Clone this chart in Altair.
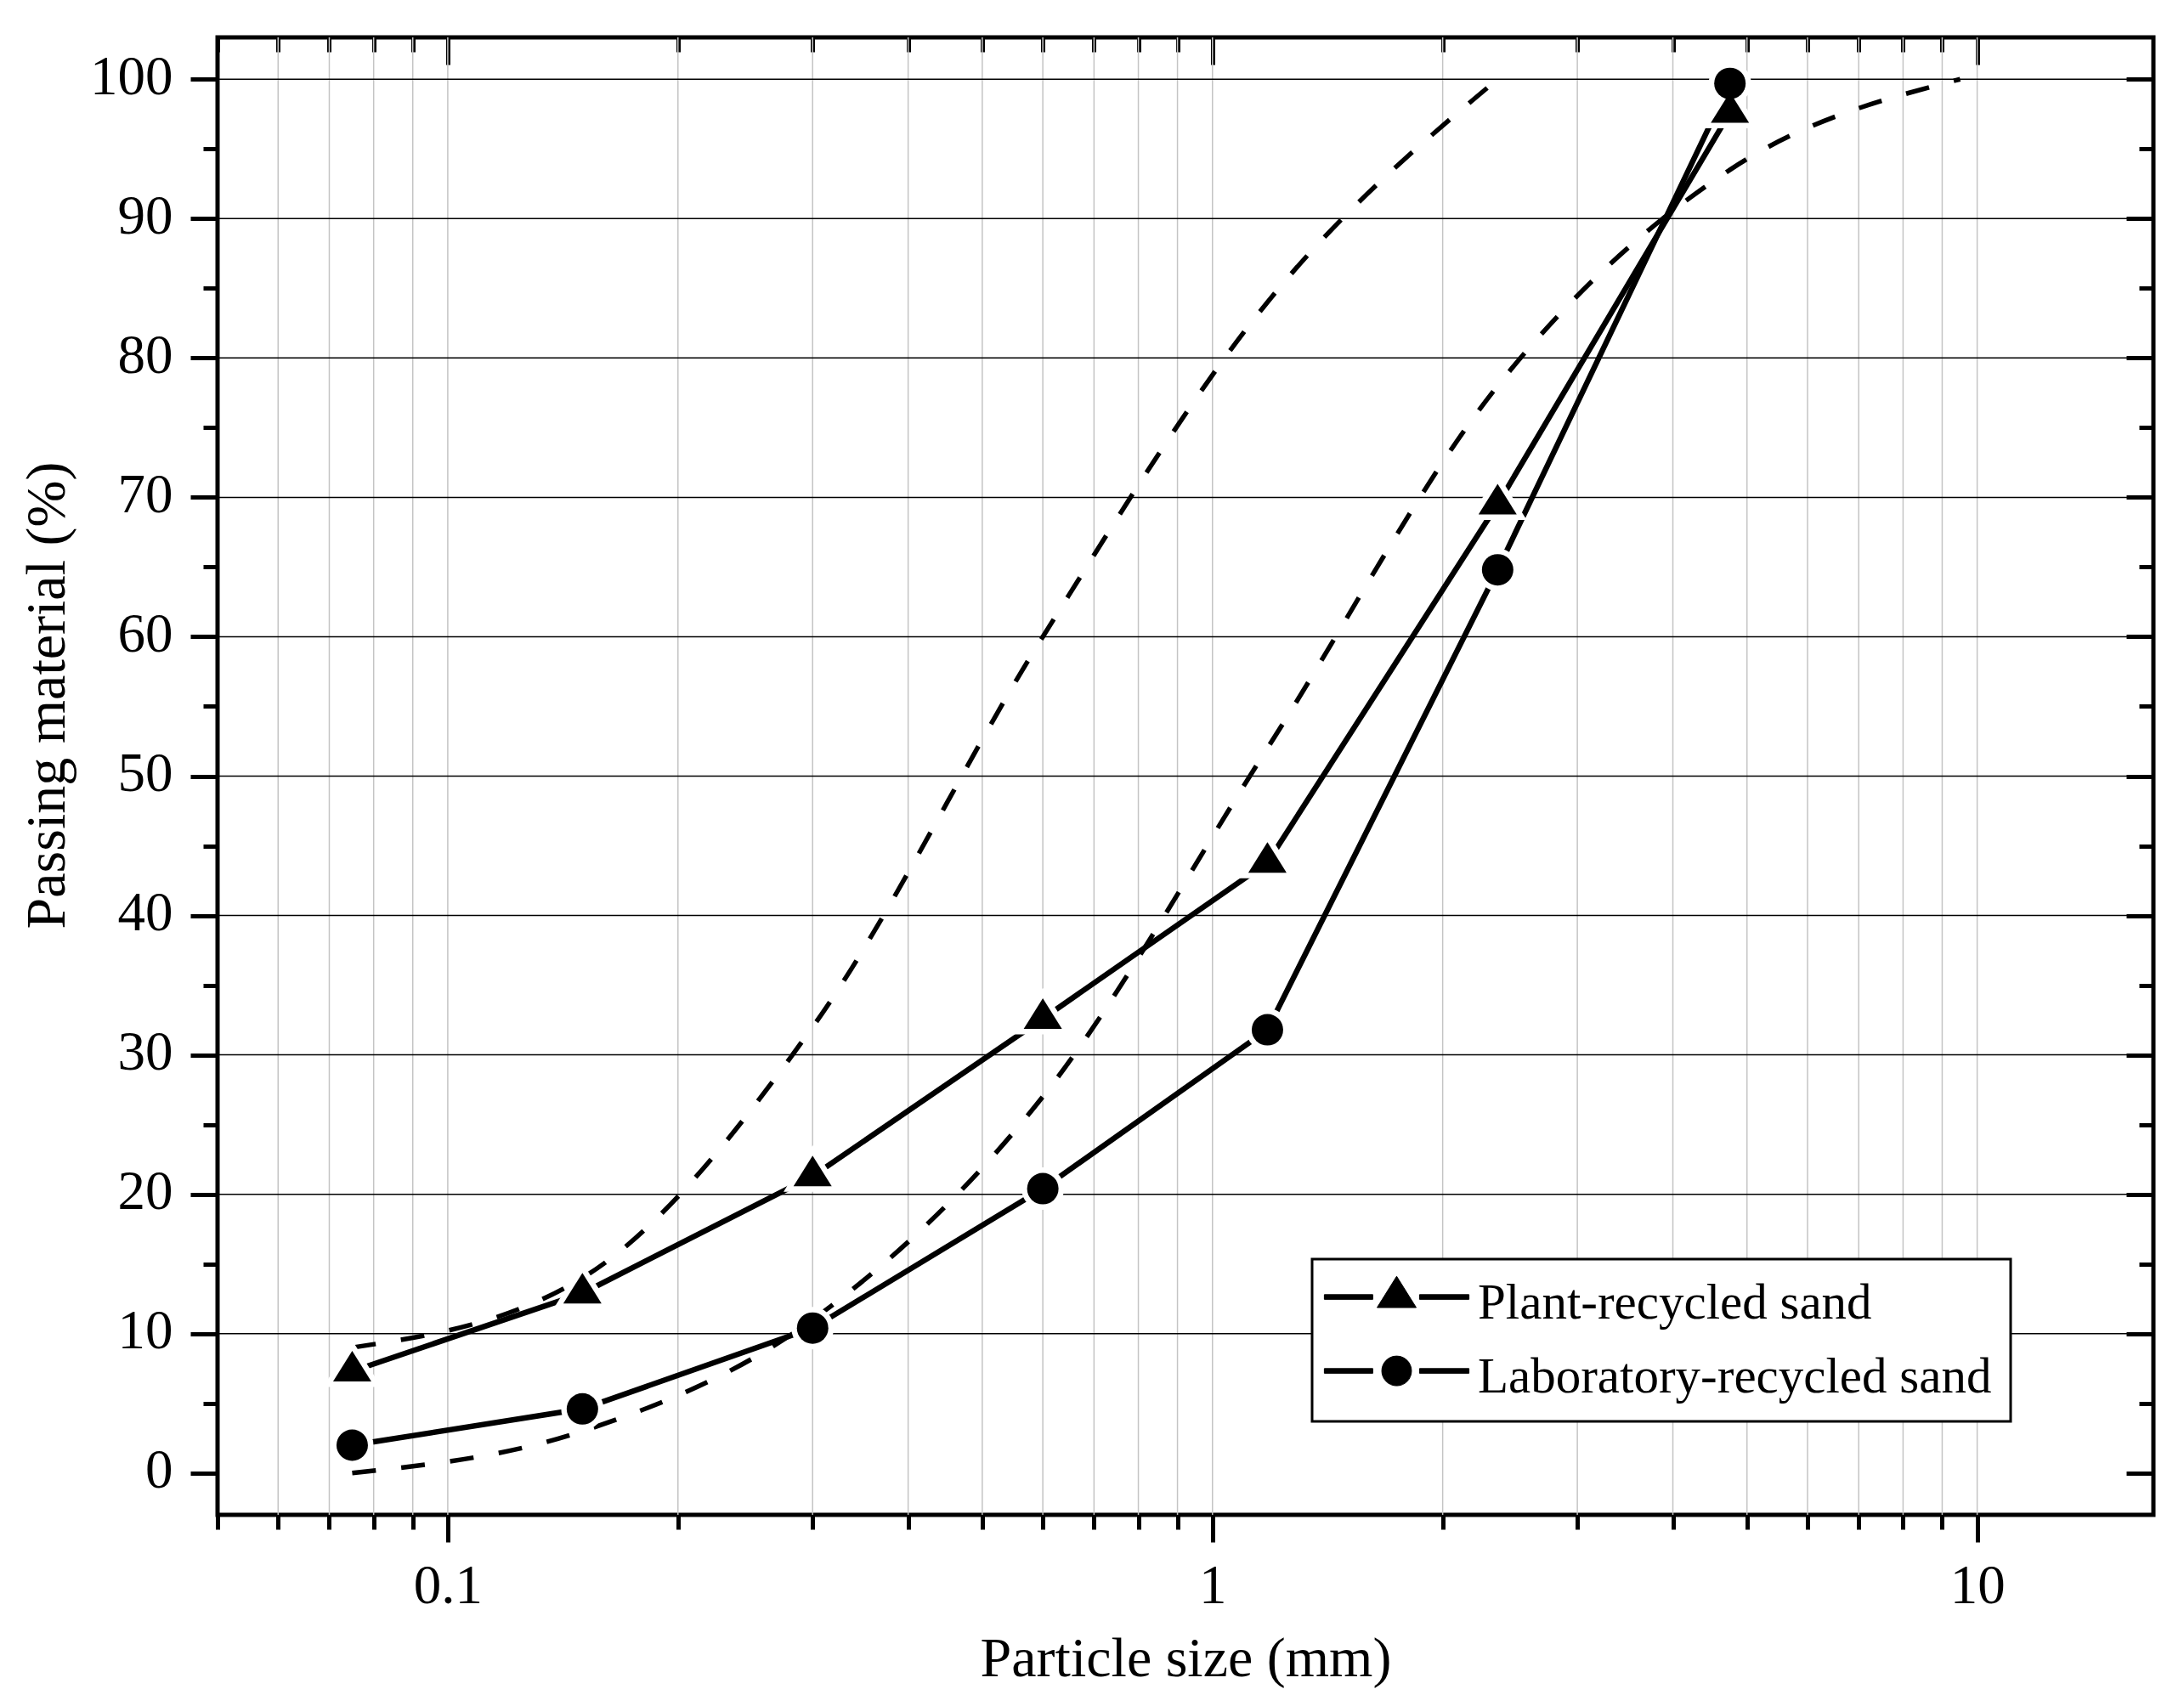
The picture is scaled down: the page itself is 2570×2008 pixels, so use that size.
import altair as alt
import pandas as pd

# ---------------- data ----------------
SIEVES = [0.075, 0.15, 0.3, 0.6, 1.18, 2.36, 4.75]
PLANT = [7.3, 12.9, 21.3, 32.6, 43.8, 69.5, 97.6]
LAB = [2.0, 4.6, 10.4, 20.4, 31.8, 64.8, 99.7]

UPPER_SIEVES = [0.075, 0.15, 0.3, 0.6, 1.18, 2.36]
UPPER = [9, 14, 32, 60, 84, 100]
LOWER_SIEVES = [0.075, 0.15, 0.3, 0.6, 1.18, 2.36, 4.75, 9.5]
LOWER = [0, 3, 11, 27, 52, 78, 93.5, 100]

SERIES = ["Plant-recycled sand", "Laboratory-recycled sand"]

X_MAJOR = [0.1, 1, 10]
X_MINOR = [0.05, 0.06, 0.07, 0.08, 0.09, 0.2, 0.3, 0.4, 0.5, 0.6, 0.7, 0.8, 0.9,
           2, 3, 4, 5, 6, 7, 8, 9]
X_GRID = [0.06, 0.07, 0.08, 0.09, 0.1, 0.2, 0.3, 0.4, 0.5, 0.6, 0.7, 0.8, 0.9,
          1, 2, 3, 4, 5, 6, 7, 8, 9, 10]
Y_MAJOR = [0, 10, 20, 30, 40, 50, 60, 70, 80, 90, 100]
Y_MINOR = [5, 15, 25, 35, 45, 55, 65, 75, 85, 95]
Y_GRID = [10, 20, 30, 40, 50, 60, 70, 80, 90, 100]

# ---------------- tables ----------------
data = pd.DataFrame({
    "size": SIEVES + SIEVES,
    "pass": PLANT + LAB,
    "series": [SERIES[0]] * len(SIEVES) + [SERIES[1]] * len(SIEVES),
})
limits = pd.DataFrame({
    "size": UPPER_SIEVES + LOWER_SIEVES,
    "pass": UPPER + LOWER,
    "limit": ["upper"] * len(UPPER_SIEVES) + ["lower"] * len(LOWER_SIEVES),
})
plant_df = data[data["series"] == SERIES[0]]
lab_df = data[data["series"] == SERIES[1]]

FONT = "Liberation Serif"
W, H = 2278, 1739
XS = alt.Scale(type="log", domain=[0.05, 17], nice=False)
YS = alt.Scale(domain=[-3, 103], nice=False, zero=False)

TRI = "M0,-1.067L1,0.533L-1,0.533Z"  # triangle centred on its centroid
LEG_BARS = ("M-3.7,-0.42L-1.22,-0.42L-1.22,-0.18L-3.7,-0.18Z"
            "M1.17,-0.42L3.7,-0.42L3.7,-0.18L1.17,-0.18Z")
LEG_TRI = LEG_BARS + "M0,-1.36L1.0,0.24L-1.0,0.24Z"
LEG_CIRC = LEG_BARS + ("M-0.76,-0.3A0.76,0.76,0,1,0,0.76,-0.3"
                       "A0.76,0.76,0,1,0,-0.76,-0.3Z")

tick_common = dict(tickColor="black", tickWidth=5, domain=False, grid=False)

x_main = alt.Axis(orient="bottom", values=X_MAJOR, format="~g", tickSize=32,
                  labelFont=FONT, labelFontSize=65, labelColor="black",
                  labelPadding=20, labelFlush=False,
                  title="Particle size (mm)", titleFont=FONT, titleFontSize=66,
                  titleFontWeight="normal", titleColor="black",
                  titleY=189, titleBaseline="alphabetic", **tick_common)
y_main = alt.Axis(orient="left", values=Y_MAJOR, tickSize=32,
                  labelFont=FONT, labelFontSize=65, labelColor="black",
                  labelPadding=21, labelOffset=-3, labelFlush=False,
                  title="Passing material (%)", titleFont=FONT, titleFontSize=66,
                  titleFontWeight="normal", titleColor="black",
                  titleX=-181, titleY=774, titleAngle=270, titleAlign="center",
                  titleBaseline="alphabetic", **tick_common)


def tick_axis(orient, values, size, offset=0):
    return alt.Axis(orient=orient, values=values, tickSize=size, labels=False,
                    title=None, offset=offset, **tick_common)


# ---------------- layers ----------------
xgrid = alt.Chart(pd.DataFrame({"size": X_GRID})).mark_rule(
    color="#c4c4c4", strokeWidth=1.5
).encode(x=alt.X("size:Q", scale=XS, axis=None))

ygrid = alt.Chart(pd.DataFrame({"pass": Y_GRID})).mark_rule(
    color="black", strokeWidth=1.5
).encode(y=alt.Y("pass:Q", scale=YS, axis=None))

limit_lines = alt.Chart(limits).mark_line(
    color="black", strokeWidth=5.5, strokeDash=[28, 30], interpolate="monotone"
).encode(
    x=alt.X("size:Q", scale=XS, axis=x_main),
    y=alt.Y("pass:Q", scale=YS, axis=y_main),
    detail="limit:N",
)

enc = dict(x=alt.X("size:Q", scale=XS, axis=None),
           y=alt.Y("pass:Q", scale=YS, axis=None))

series_lines = alt.Chart(data).mark_line(color="black", strokeWidth=6.5).encode(
    detail="series:N", **enc)

halo_tri = alt.Chart(plant_df).mark_point(
    shape=TRI, size=2025, filled=True, fill="white", stroke="white",
    strokeWidth=13, opacity=1).encode(**enc)
halo_circ = alt.Chart(lab_df).mark_point(
    shape="circle", size=1369, filled=True, fill="white", stroke="white",
    strokeWidth=13, opacity=1).encode(**enc)
pts_tri = alt.Chart(plant_df).mark_point(
    shape=TRI, size=2025, filled=True, color="black", opacity=1).encode(**enc)
pts_circ = alt.Chart(lab_df).mark_point(
    shape="circle", size=1369, filled=True, color="black", opacity=1).encode(**enc)

legend = alt.Legend(
    title=None, orient="none", legendX=1288, legendY=1438, padding=22,
    strokeColor="black", fillColor="white",
    labelFont=FONT, labelFontSize=59, labelColor="black", labelLimit=2000,
    labelOffset=66, symbolOffset=48, symbolSize=2116,
    symbolStrokeWidth=1, symbolOpacity=1, rowPadding=27,
)
legend_layer = alt.Chart(data).mark_point(
    filled=False, color="black", strokeWidth=1, size=2116, opacity=0
).encode(
    shape=alt.Shape("series:N",
                    scale=alt.Scale(domain=SERIES, range=[LEG_TRI, LEG_CIRC]),
                    legend=legend),
    fill=alt.value("black"),
    **enc,
)


def ticks_layer(xaxis, yaxis):
    return alt.Chart(data).mark_point(opacity=0).encode(
        x=alt.X("size:Q", scale=XS, axis=xaxis),
        y=alt.Y("pass:Q", scale=YS, axis=yaxis),
    )

minor_bl = ticks_layer(tick_axis("bottom", X_MINOR, 17), tick_axis("left", Y_MINOR, 17))
major_tr = ticks_layer(tick_axis("top", X_MAJOR, 32, -32), tick_axis("right", Y_MAJOR, 32, -32))
minor_tr = ticks_layer(tick_axis("top", X_MINOR, 17, -17), tick_axis("right", Y_MINOR, 17, -17))

chart = alt.layer(
    xgrid, ygrid, limit_lines, series_lines, halo_tri, halo_circ,
    pts_tri, pts_circ, legend_layer, minor_bl, major_tr, minor_tr
).resolve_scale(
    x="independent", y="independent"
).properties(
    width=W, height=H,
    autosize=alt.AutoSizeParams(type="none"),
    padding={"left": 248, "top": 36, "right": 20, "bottom": 222},
    background="white",
).configure_view(
    stroke="black", strokeWidth=5
).configure_legend(
    strokeWidth=3
)

chart.save("out.html", embed_options={"renderer": "svg", "actions": False})
